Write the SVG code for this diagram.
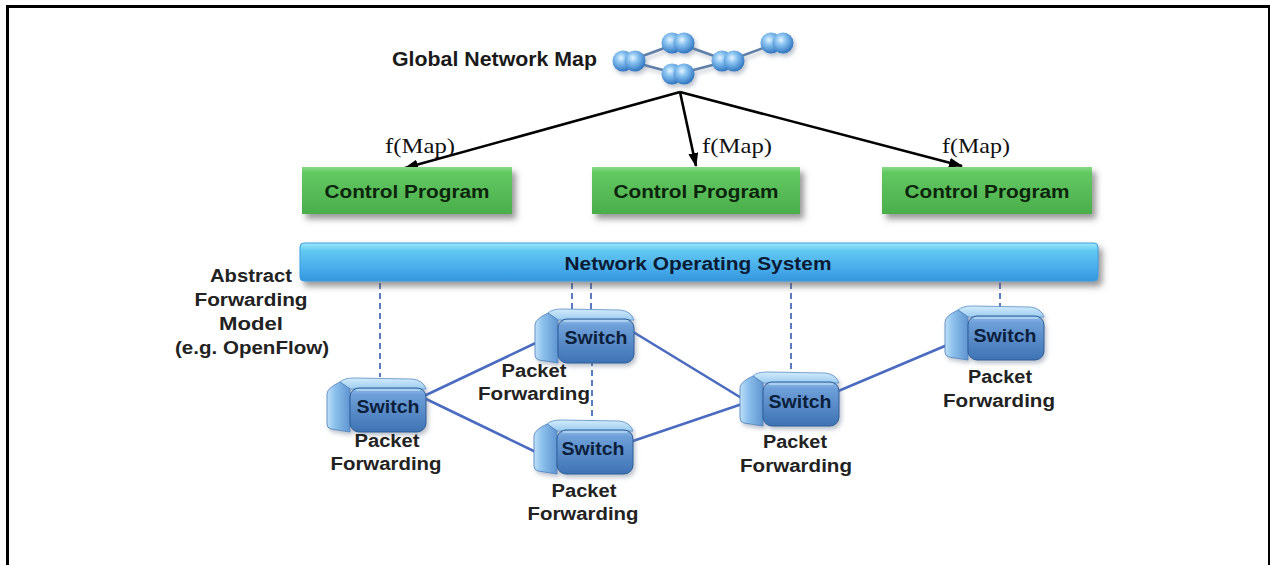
<svg xmlns="http://www.w3.org/2000/svg" xmlns:xlink="http://www.w3.org/1999/xlink" width="1270" height="565" viewBox="0 0 1270 565">
  <defs>
    <style>
      .sans { font-family: "Liberation Sans", Arial, sans-serif; font-weight: bold; }
      .serif { font-family: "Liberation Serif", "Times New Roman", serif; }
      .title { font-size: 19.5px; fill: #1a1a1a; }
      .fmap { font-size: 22px; fill: #111; }
      .cp { font-size: 18px; fill: #0c240c; text-anchor: middle; }
      .nos { font-size: 18px; fill: #0a1a33; text-anchor: middle; }
      .afm { font-size: 18px; fill: #222; text-anchor: middle; }
      .pf { font-size: 18px; fill: #222; text-anchor: middle; }
      .sw { font-size: 19px; fill: #0b1f3c; text-anchor: middle; }
      .map-edge { stroke: #5f7fa8; stroke-width: 2.4; fill: none; }
      .arrow { stroke: #000; stroke-width: 2.6; fill: none; marker-end: url(#arrowhead); }
      .dash { stroke: #5b7bc0; stroke-width: 2; stroke-dasharray: 6 4; fill: none; }
      .link { stroke: #4a6bbf; stroke-width: 2.6; fill: none; stroke-linecap: round; }
    </style>
    <marker id="arrowhead" viewBox="0 0 14 10" refX="13" refY="5" markerWidth="14" markerHeight="10" markerUnits="userSpaceOnUse" orient="auto">
      <path d="M0,0 L14,5 L0,10 Z" fill="#000"/>
    </marker>
    <filter id="shadow" x="-10%" y="-30%" width="125%" height="180%">
      <feGaussianBlur in="SourceAlpha" stdDeviation="3"/>
      <feOffset dx="4" dy="5" result="b"/>
      <feFlood flood-color="#555" flood-opacity="0.6"/>
      <feComposite in2="b" operator="in"/>
      <feMerge><feMergeNode/><feMergeNode in="SourceGraphic"/></feMerge>
    </filter>
    <filter id="softshadow" x="-20%" y="-20%" width="150%" height="160%">
      <feGaussianBlur in="SourceAlpha" stdDeviation="2"/>
      <feOffset dx="2" dy="3" result="b"/>
      <feFlood flood-color="#6a7a90" flood-opacity="0.45"/>
      <feComposite in2="b" operator="in"/>
      <feMerge><feMergeNode/><feMergeNode in="SourceGraphic"/></feMerge>
    </filter>
    <linearGradient id="greenGrad" x1="0" y1="0" x2="0" y2="1">
      <stop offset="0" stop-color="#86dc86"/>
      <stop offset="0.12" stop-color="#62c862"/>
      <stop offset="1" stop-color="#4aae4a"/>
    </linearGradient>
    <linearGradient id="barGrad" x1="0" y1="0" x2="0" y2="1">
      <stop offset="0" stop-color="#9fe9fb"/>
      <stop offset="0.2" stop-color="#62c8f2"/>
      <stop offset="0.7" stop-color="#45aaea"/>
      <stop offset="1" stop-color="#3496dc"/>
    </linearGradient>
    <linearGradient id="frontGrad" x1="0" y1="0" x2="0" y2="1">
      <stop offset="0" stop-color="#8fbce8"/>
      <stop offset="0.15" stop-color="#6e9fd8"/>
      <stop offset="1" stop-color="#3e73b4"/>
    </linearGradient>
    <linearGradient id="sideGrad" x1="0" y1="0" x2="1" y2="0">
      <stop offset="0" stop-color="#bfe0f8"/>
      <stop offset="0.35" stop-color="#8cc0ec"/>
      <stop offset="1" stop-color="#5f95d0"/>
    </linearGradient>
    <linearGradient id="topGrad" x1="0" y1="0" x2="0" y2="1">
      <stop offset="0" stop-color="#d2ecfb"/>
      <stop offset="1" stop-color="#9ccbf0"/>
    </linearGradient>
    <radialGradient id="ball" cx="0.4" cy="0.35" r="0.65">
      <stop offset="0" stop-color="#e6f4ff"/>
      <stop offset="0.35" stop-color="#8ec6f2"/>
      <stop offset="1" stop-color="#2f76c2"/>
    </radialGradient>
    <!-- switch body: side face, top face, front face (local box 102 x 54) -->
    <g id="switch-body">
      <path d="M14,4 Q18,0 28,0 L86,1 Q97,2 100,11 L24,11 Z" fill="url(#topGrad)" stroke="#5d8fc8" stroke-width="0.8"/>
      <path d="M14,4 L24,11 L24,54 L5,51 Q1,50 1,46 L1,16 Q1,10 14,4 Z" fill="url(#sideGrad)" stroke="#4f80bd" stroke-width="0.8"/>
      <rect x="24" y="10" width="76" height="44" rx="9" fill="url(#frontGrad)" stroke="#2c5c98" stroke-width="1"/>
      <path d="M30,12 L94,12" stroke="#b7d8f5" stroke-width="1.5" fill="none"/>
    </g>
    <!-- double sphere used in the map icon -->
    <g id="map-node">
      <circle cx="-6" cy="0" r="10.5" fill="url(#ball)"/>
      <circle cx="6" cy="0" r="10.5" fill="url(#ball)"/>
    </g>
  </defs>

  <rect width="1270" height="565" fill="#fff"/>

  <!-- outer frame -->
  <g id="frame" fill="#000">
    <rect x="6" y="5" width="1264" height="3"/>
    <rect x="6" y="5" width="3" height="560"/>
    <rect x="1268" y="5" width="2" height="560"/>
  </g>

  <!-- global network map -->
  <g id="global-map">
    <text class="sans title" x="392" y="66" textLength="205" lengthAdjust="spacingAndGlyphs">Global Network Map</text>
    <g filter="url(#softshadow)">
      <path class="map-edge" d="M629,61 L678,43 M629,61 L678,74 M678,43 L728,61 M678,74 L728,61 M728,61 L777,43"/>
      <use xlink:href="#map-node" x="629" y="61"/>
      <use xlink:href="#map-node" x="678" y="43"/>
      <use xlink:href="#map-node" x="678" y="74"/>
      <use xlink:href="#map-node" x="728" y="61"/>
      <use xlink:href="#map-node" x="777" y="43"/>
    </g>
  </g>

  <!-- connectors -->
  <g id="connectors">
    <line class="arrow" x1="680" y1="92" x2="405" y2="168"/>
    <line class="arrow" x1="680" y1="92" x2="696" y2="166"/>
    <line class="arrow" x1="680" y1="92" x2="962" y2="166"/>

    <line class="dash" x1="380" y1="283" x2="380" y2="377"/>
    <line class="dash" x1="572" y1="283" x2="572" y2="312"/>
    <line class="dash" x1="591" y1="283" x2="591" y2="312"/>
    <line class="dash" x1="592" y1="360" x2="592" y2="424"/>
    <line class="dash" x1="791" y1="283" x2="791" y2="374"/>
    <line class="dash" x1="1000" y1="283" x2="1000" y2="308"/>

    <line class="link" x1="424" y1="396" x2="542" y2="340"/>
    <line class="link" x1="424" y1="398" x2="542" y2="455"/>
    <line class="link" x1="630" y1="330" x2="748" y2="402"/>
    <line class="link" x1="630" y1="442" x2="748" y2="402"/>
    <line class="link" x1="836" y1="392" x2="952" y2="343"/>
  </g>

  <!-- f(Map) labels -->
  <g id="fmap-labels">
    <text class="serif fmap" x="385" y="153" textLength="70" lengthAdjust="spacingAndGlyphs">f(Map)</text>
    <text class="serif fmap" x="702" y="153" textLength="70" lengthAdjust="spacingAndGlyphs">f(Map)</text>
    <text class="serif fmap" x="942" y="153" textLength="68" lengthAdjust="spacingAndGlyphs">f(Map)</text>
  </g>

  <!-- control programs -->
  <g id="control-program-1">
    <rect x="302" y="167" width="210" height="47" fill="url(#greenGrad)" filter="url(#shadow)"/>
    <text class="sans cp" x="407" y="198" textLength="165" lengthAdjust="spacingAndGlyphs">Control Program</text>
  </g>
  <g id="control-program-2">
    <rect x="592" y="167" width="208" height="47" fill="url(#greenGrad)" filter="url(#shadow)"/>
    <text class="sans cp" x="696" y="198" textLength="165" lengthAdjust="spacingAndGlyphs">Control Program</text>
  </g>
  <g id="control-program-3">
    <rect x="882" y="167" width="210" height="47" fill="url(#greenGrad)" filter="url(#shadow)"/>
    <text class="sans cp" x="987" y="198" textLength="165" lengthAdjust="spacingAndGlyphs">Control Program</text>
  </g>

  <!-- network operating system bar -->
  <g id="network-os">
    <rect x="300" y="243" width="798" height="38" rx="4" fill="url(#barGrad)" stroke="#3a9ee0" stroke-width="1" filter="url(#shadow)"/>
    <text class="sans nos" x="698" y="270" textLength="267" lengthAdjust="spacingAndGlyphs">Network Operating System</text>
  </g>

  <!-- forwarding model caption -->
  <g id="abstract-model">
    <text class="sans afm" x="251" y="282" textLength="82" lengthAdjust="spacingAndGlyphs">Abstract</text>
    <text class="sans afm" x="251" y="306" textLength="113" lengthAdjust="spacingAndGlyphs">Forwarding</text>
    <text class="sans afm" x="251" y="330" textLength="64" lengthAdjust="spacingAndGlyphs">Model</text>
    <text class="sans afm" x="252" y="354" textLength="154" lengthAdjust="spacingAndGlyphs">(e.g. OpenFlow)</text>
  </g>

  <!-- switches -->
  <g id="switch-1">
    <use xlink:href="#switch-body" x="326" y="378" filter="url(#softshadow)"/>
    <text class="sans sw" x="388" y="413" textLength="63" lengthAdjust="spacingAndGlyphs">Switch</text>
    <text class="sans pf" x="387" y="447" textLength="65" lengthAdjust="spacingAndGlyphs">Packet</text>
    <text class="sans pf" x="386" y="470" textLength="111" lengthAdjust="spacingAndGlyphs">Forwarding</text>
  </g>
  <g id="switch-2">
    <use xlink:href="#switch-body" x="534" y="309" filter="url(#softshadow)"/>
    <text class="sans sw" x="596" y="344" textLength="63" lengthAdjust="spacingAndGlyphs">Switch</text>
    <text class="sans pf" x="534" y="377" textLength="65" lengthAdjust="spacingAndGlyphs">Packet</text>
    <text class="sans pf" x="534" y="400" textLength="112" lengthAdjust="spacingAndGlyphs">Forwarding</text>
  </g>
  <g id="switch-3">
    <use xlink:href="#switch-body" x="533" y="420" filter="url(#softshadow)"/>
    <text class="sans sw" x="593" y="455" textLength="63" lengthAdjust="spacingAndGlyphs">Switch</text>
    <text class="sans pf" x="584" y="497" textLength="65" lengthAdjust="spacingAndGlyphs">Packet</text>
    <text class="sans pf" x="583" y="520" textLength="111" lengthAdjust="spacingAndGlyphs">Forwarding</text>
  </g>
  <g id="switch-4">
    <use xlink:href="#switch-body" x="739" y="372" filter="url(#softshadow)"/>
    <text class="sans sw" x="800" y="408" textLength="63" lengthAdjust="spacingAndGlyphs">Switch</text>
    <text class="sans pf" x="795" y="448" textLength="64" lengthAdjust="spacingAndGlyphs">Packet</text>
    <text class="sans pf" x="796" y="472" textLength="112" lengthAdjust="spacingAndGlyphs">Forwarding</text>
  </g>
  <g id="switch-5">
    <use xlink:href="#switch-body" x="944" y="306" filter="url(#softshadow)"/>
    <text class="sans sw" x="1005" y="342" textLength="63" lengthAdjust="spacingAndGlyphs">Switch</text>
    <text class="sans pf" x="1000" y="383" textLength="64" lengthAdjust="spacingAndGlyphs">Packet</text>
    <text class="sans pf" x="999" y="407" textLength="112" lengthAdjust="spacingAndGlyphs">Forwarding</text>
  </g>
</svg>
